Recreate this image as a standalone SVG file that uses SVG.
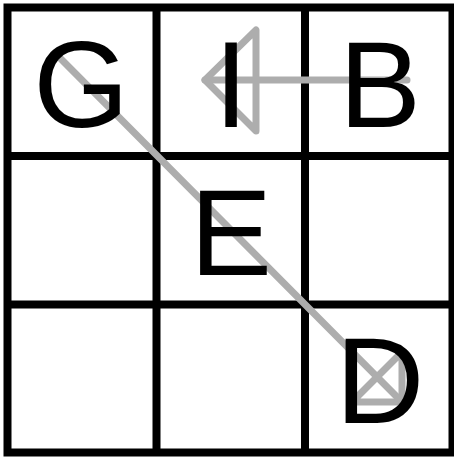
<svg xmlns="http://www.w3.org/2000/svg" width="454" height="457" viewBox="0 0 454 457">
<style>
.grid{fill:none;stroke:#000;stroke-width:8}
.conn{fill:none;stroke:#adadad;stroke-width:7;stroke-linejoin:round;stroke-linecap:round}
.lbl{font-family:"Liberation Sans",Arial,sans-serif;font-size:123px;fill:#000;text-anchor:middle}
</style>
<rect width="454" height="457" fill="#fff"/>
<g id="grid">
<rect class="grid" x="7.5" y="7.5" width="445" height="445"/>
<line class="grid" x1="156.5" y1="7.5" x2="156.5" y2="452.5"/>
<line class="grid" x1="305" y1="7.5" x2="305" y2="452.5"/>
<line class="grid" x1="7.5" y1="156" x2="452.5" y2="156"/>
<line class="grid" x1="7.5" y1="304.5" x2="452.5" y2="304.5"/>
</g>
<g id="connectors">
<path class="conn" d="M407,80 L205,80"/>
<polygon class="conn" points="205,80 256,30 256,131"/>
<path class="conn" d="M60,58 L402,402"/>
<polygon class="conn" points="402,402 402,352 352,402"/>
</g>
<g id="node-G"><text class="lbl" x="81" y="127">G</text></g>
<g id="node-I"><text class="lbl" x="231" y="127">I</text></g>
<g id="node-B"><text class="lbl" x="380" y="127">B</text></g>
<g id="node-E"><text class="lbl" x="231" y="275">E</text></g>
<g id="node-D"><text class="lbl" x="380" y="423">D</text></g>
</svg>
